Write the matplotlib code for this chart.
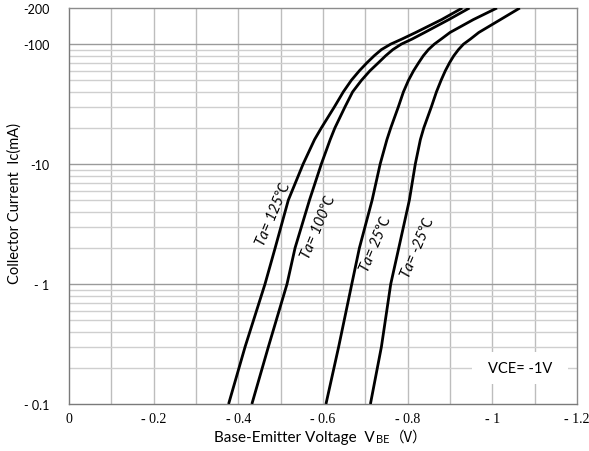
import numpy as np
import matplotlib
matplotlib.use("Agg")
import matplotlib.pyplot as plt
from matplotlib.patches import Rectangle
from matplotlib.ticker import FixedLocator, NullFormatter

# Collector current |Ic| (mA) at which each curve was sampled
current_ma = [0.1, 0.3, 1, 2, 5, 10, 16, 20, 30, 40, 50, 60, 70, 80, 90, 100, 110, 125, 160, 200]

# |VBE| (V) for each ambient temperature
vbe_125 = [0.377, 0.416, 0.463, 0.487, 0.518, 0.553, 0.580, 0.596, 0.627, 0.648, 0.667,
           0.686, 0.704, 0.721, 0.738, 0.760, 0.786, 0.819, 0.880, 0.929]
vbe_100 = [0.432, 0.471, 0.515, 0.534, 0.568, 0.596, 0.617, 0.628, 0.652, 0.670, 0.691,
           0.711, 0.731, 0.748, 0.765, 0.785, 0.810, 0.840, 0.897, 0.946]
vbe_25 = [0.607, 0.637, 0.668, 0.686, 0.716, 0.735, 0.751, 0.760, 0.778, 0.790, 0.802,
          0.814, 0.826, 0.837, 0.849, 0.863, 0.879, 0.900, 0.955, 1.011]
vbe_m25 = [0.712, 0.738, 0.760, 0.779, 0.804, 0.818, 0.830, 0.838, 0.856, 0.868, 0.879,
           0.889, 0.899, 0.909, 0.920, 0.932, 0.948, 0.968, 1.019, 1.065]

curve_labels = ["Ta= 125\u2103", "Ta= 100\u2103", "Ta= 25\u2103", "Ta= -25\u2103"]
label_pos = [(0.482, 3.9), (0.588, 3.0), (0.724, 2.2), (0.824, 2.05)]

x_ticks = [0, 0.2, 0.4, 0.6, 0.8, 1.0, 1.2]
x_tick_labels = ["0", "- 0.2", "- 0.4", "- 0.6", "- 0.8", "- 1", "- 1.2"]
y_ticks = [0.1, 1, 10, 100, 200]
y_tick_labels = ["- 0.1", "- 1", "-10", "-100", "-200"]

fig = plt.figure(figsize=(5.89, 4.52), dpi=100)
ax = fig.add_axes([69 / 589, 47 / 452, 508 / 589, 396 / 452])

ax.set_yscale("log")
ax.set_xlim(0, 1.2)
ax.set_ylim(0.1, 200)

# grid: verticals every 0.1 V, log decades plus minor lines
for v in np.arange(0.1, 1.2, 0.1):
    ax.axvline(v, color="#bdbdbd", lw=1.0, zorder=1)
for dec in [0.1, 1, 10]:
    for m in range(2, 10):
        ax.axhline(dec * m, color="#cfcfcf", lw=1.0, zorder=1)
for yv in [1, 10, 100]:
    ax.axhline(yv, color="#9a9a9a", lw=1.0, zorder=1)

for series in [vbe_125, vbe_100, vbe_25, vbe_m25]:
    ax.plot(series, current_ma, color="black", lw=2.0, zorder=3,
            solid_joinstyle="round", solid_capstyle="butt")

for text, (xv, yv) in zip(curve_labels, label_pos):
    ax.text(xv, yv, text, rotation=67, ha="center", va="center",
            fontsize=10.5, style="italic",
            family=["Lato", "Noto Sans CJK SC", "DejaVu Sans"], zorder=4)

# condition note on a white patch that hides the grid behind it
ax.add_patch(Rectangle((0.793, 0.0505), 0.189, 0.0805, transform=ax.transAxes,
                       fc="white", ec="none", zorder=2))
ax.text(0.8875, 0.0908, "VCE= -1V", transform=ax.transAxes, ha="center",
        va="center", fontsize=10.5, family="Lato", zorder=5)

ax.xaxis.set_major_locator(FixedLocator(x_ticks))
ax.set_xticklabels(x_tick_labels, family="Liberation Serif", fontsize=10)
ax.yaxis.set_major_locator(FixedLocator(y_ticks))
ax.yaxis.set_minor_formatter(NullFormatter())
ax.yaxis.set_minor_locator(FixedLocator([]))
ax.set_yticklabels(y_tick_labels, family="Lato", fontsize=9)
ax.tick_params(axis="both", length=0)
ax.tick_params(axis="y", pad=14)
ax.tick_params(axis="x", pad=6)

for s in ax.spines.values():
    s.set_color("#8c8c8c")
    s.set_linewidth(1.0)
ax.spines["left"].set_color("#7a7a7a")
ax.spines["bottom"].set_color("#7a7a7a")

fig.text(15 / 589, 1 - 204 / 452, "Collector Current  Ic(mA)", rotation=90,
         ha="center", va="center", fontsize=10.5, family="Lato")

# x-axis title built from pieces so the subscript-style "BE" is smaller
fig.canvas.draw()
renderer = fig.canvas.get_renderer()
y_lab = 1 - 438 / 452
t1 = fig.text(0, y_lab, "Base-Emitter Voltage  V", ha="left", va="center",
              fontsize=11, family="Lato")
t2 = fig.text(0, y_lab - 0.004, "BE", ha="left", va="center",
              fontsize=8, family="Lato")
t3 = fig.text(0, y_lab, "\uff08V\uff09", ha="left", va="center",
              fontsize=10.5, family=["Noto Sans CJK SC", "DejaVu Sans"])
w = [t.get_window_extent(renderer).width / fig.bbox.width for t in (t1, t2, t3)]
start = 320 / 589 - sum(w) / 2
t1.set_x(start)
t2.set_x(start + w[0] + 0.002)
t3.set_x(start + w[0] + w[1] + 0.002)

fig.savefig("out.png", dpi=100)
